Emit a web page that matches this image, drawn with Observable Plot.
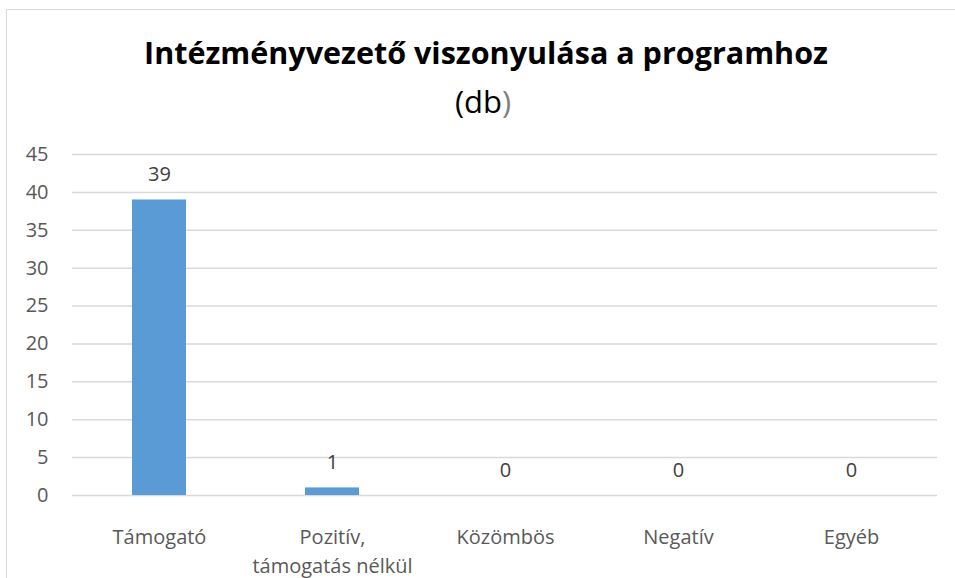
<!DOCTYPE html>
<html><head><meta charset="utf-8">
<script src="https://cdn.jsdelivr.net/npm/d3@7"></script>
<script src="https://cdn.jsdelivr.net/npm/@observablehq/plot@0.6"></script>
<style>
html,body{margin:0;padding:0;background:#fff;}
#frame{position:absolute;left:6px;top:9px;width:960px;height:600px;border:1.5px solid #d9d9d9;box-sizing:border-box;}
#title{position:absolute;left:0;width:972px;top:31px;text-align:center;font-family:"Open Sans",sans-serif;font-weight:700;font-size:30.5px;color:#000;white-space:nowrap;}
#sub{position:absolute;left:0;width:966px;top:80px;text-align:center;font-family:"Open Sans",sans-serif;font-size:31px;color:#000;}
#chart{position:absolute;left:0;top:140px;}
</style></head>
<body>
<div id="frame"></div>
<div id="title">Intézményvezető viszonyulása a programhoz</div>
<div id="sub">(db<span style="color:#7f7f7f">)</span></div>
<div id="chart"></div>
<script>
const categories = ["Támogató", "Pozitív,\ntámogatás nélkül", "Közömbös", "Negatív", "Egyéb"];
const values = [39, 1, 0, 0, 0];
const yTicks = [0, 5, 10, 15, 20, 25, 30, 35, 40, 45];
const data = categories.map((c, i) => ({cat: c, v: values[i]}));
const plot = Plot.plot({
  width: 955, height: 438,
  marginTop: 14, marginBottom: 83, marginLeft: 72, marginRight: 18,
  style: {fontFamily: "'Open Sans', sans-serif", fontSize: "20px", color: "#595959", background: "transparent"},
  x: {domain: categories, paddingInner: 0.69, paddingOuter: 0.345, label: null},
  y: {domain: [0, 45], ticks: yTicks, label: null},
  marks: [
    Plot.gridY(yTicks, {stroke: "#d9d9d9", strokeOpacity: 1, strokeWidth: 1.5}),
    Plot.barY(data, {x: "cat", y: "v", fill: "#5b9bd5"}),
    Plot.text(data, {x: "cat", y: "v", text: d => String(d.v), dy: -25, lineAnchor: "middle", fill: "#404040", fontSize: 20}),
    Plot.axisY(yTicks, {tickSize: 0, tickPadding: 24, fill: "#595959", fontSize: 20, label: null}),
    Plot.axisX({tickSize: 0, tickPadding: 28, fill: "#595959", fontSize: 20, label: null, lineHeight: 1.45})
  ]
});
document.getElementById("chart").appendChild(plot);
</script>
</body></html>
